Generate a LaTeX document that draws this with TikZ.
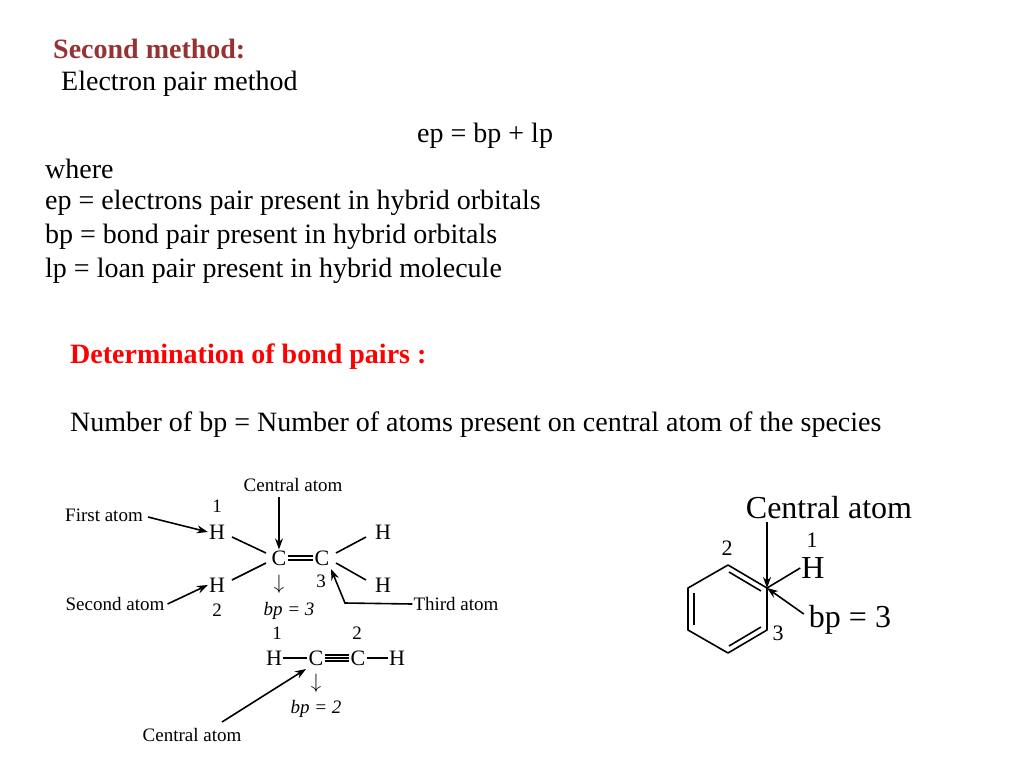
\documentclass[tikz,border=0pt]{standalone}
\usepackage{fontspec}
\setmainfont{Liberation Serif}
\usetikzlibrary{arrows.meta}
\definecolor{darkred}{RGB}{150,50,50}
\tikzset{
  txt/.style={anchor=west,inner sep=0pt,font=\fontsize{28}{32}\selectfont},
  lab/.style={inner sep=1pt,font=\fontsize{19}{22}\selectfont},
  atom/.style={inner sep=1pt,font=\fontsize{22}{26}\selectfont},
  big/.style={inner sep=1pt,font=\fontsize{32}{36}\selectfont},
  bond/.style={line width=1.6pt},
  pointer/.style={line width=1.6pt,-{Stealth[length=11pt,width=8pt]}}
}
\begin{document}
\begin{tikzpicture}[x=1pt,y=-1pt]
  \useasboundingbox (0,0) rectangle (1024,768);

  % text part
  \node[txt,font=\bfseries\fontsize{28}{32}\selectfont,text=darkred] (t1) at (53,49) {Second method:};
  \node[txt] (t2) at (61,84) {Electron pair method};
  \node[txt] (t3) at (417,136) {ep = bp + lp};
  \node[txt] (t4) at (45,169) {where};
  \node[txt] (t5) at (45,203) {ep = electrons pair present in hybrid orbitals};
  \node[txt] (t6) at (45,237) {bp = bond pair present in hybrid orbitals};
  \node[txt] (t7) at (45,271) {lp = loan pair present in hybrid molecule};
  \node[txt,font=\bfseries\fontsize{28}{32}\selectfont,text=red] (t8) at (70,357) {Determination of bond pairs :};
  \node[txt] (t9) at (70,425) {Number of bp = Number of atoms present on central atom of the species};

  % ethene
  \node[lab] (ca1) at (293,485) {Central atom};
  \node[lab] (fa) at (104,515) {First atom};
  \node[lab] (sa) at (115,604) {Second atom};
  \node[lab] (ta) at (456,604) {Third atom};
  \node[lab] (n1) at (217,506) {1};
  \node[lab] (n2) at (217,610) {2};
  \node[lab] (n3) at (321,581) {3};
  \node[atom] (h1) at (217,532) {H};
  \node[atom] (h2) at (217,585) {H};
  \node[atom] (h3) at (383,532) {H};
  \node[atom] (h4) at (383,585) {H};
  \node[atom] (c1) at (279,558) {C};
  \node[atom] (c2) at (322,558) {C};
  \node[atom] (ar1) at (279,584) {$\downarrow$};
  \node[lab,font=\itshape\fontsize{19}{22}\selectfont] (bp1) at (289,611) {bp = 3};
  \coordinate (tb) at (345,603);

  \draw[bond] ([yshift=-2pt]c1.east) -- ([yshift=-2pt]c2.west);
  \draw[bond] ([yshift=2pt]c1.east) -- ([yshift=2pt]c2.west);
  \draw[bond] (232,537) -- (266,553);
  \draw[bond] (232,580) -- (266,563);
  \draw[bond] (336,553) -- (366,537);
  \draw[bond] (336,563) -- (366,580);
  \draw[pointer] (ca1.south -| c1) ++(0,4) -- (c1.north);
  \draw[pointer] (fa.east) ++(4,2) -- (h1.west);
  \draw[pointer] (sa.east) ++(2,0) -- (h2.west);
  \draw[pointer] (ta.west) -- (tb) -- (331,569);

  % ethyne
  \node[lab] (m1) at (277,633) {1};
  \node[lab] (m2) at (357,633) {2};
  \node[atom] (h5) at (274,658) {H};
  \node[atom] (c3) at (316,658) {C};
  \node[atom] (c4) at (358,658) {C};
  \node[atom] (h6) at (397,658) {H};
  \node[atom] (ar2) at (316,683) {$\downarrow$};
  \node[lab,font=\itshape\fontsize{19}{22}\selectfont] (bp2) at (316,709) {bp = 2};
  \node[lab] (ca2) at (192,735) {Central atom};
  \draw[bond] (h5.east) -- (c3.west);
  \draw[bond] (c3.east) -- (c4.west);
  \draw[bond] ([yshift=-3pt]c3.east) -- ([yshift=-3pt]c4.west);
  \draw[bond] ([yshift=3pt]c3.east) -- ([yshift=3pt]c4.west);
  \draw[bond] (c4.east) -- (h6.west);
  \draw[pointer] (222,722) -- (306,669);

  % benzene
  \coordinate (r1) at (728,565);
  \coordinate (r2) at (767,588);
  \coordinate (r3) at (767,630);
  \coordinate (r4) at (728,653);
  \coordinate (r5) at (688,630);
  \coordinate (r6) at (688,588);
  \draw[bond,line join=round] (r1) -- (r2) -- (r3) -- (r4) -- (r5) -- (r6) -- cycle;
  \draw[bond] (729,572) -- (761,591);
  \draw[bond] (761,627) -- (729,646);
  \draw[bond] (694,593) -- (694,625);
  \node[big] (ca3) at (829,508) {Central atom};
  \node[atom] (k1) at (812,540) {1};
  \node[big] (h7) at (813,568) {H};
  \node[atom] (k2) at (727,548) {2};
  \node[atom] (k3) at (778,633) {3};
  \node[big] (bp3) at (850,620) {bp = 3};
  \draw[bond] (r2) -- (h7.west);
  \draw[pointer] (767,522) -- (r2);
  \draw[pointer] (bp3.west) ++(-4,-6) -- (r2);
\end{tikzpicture}
\end{document}
